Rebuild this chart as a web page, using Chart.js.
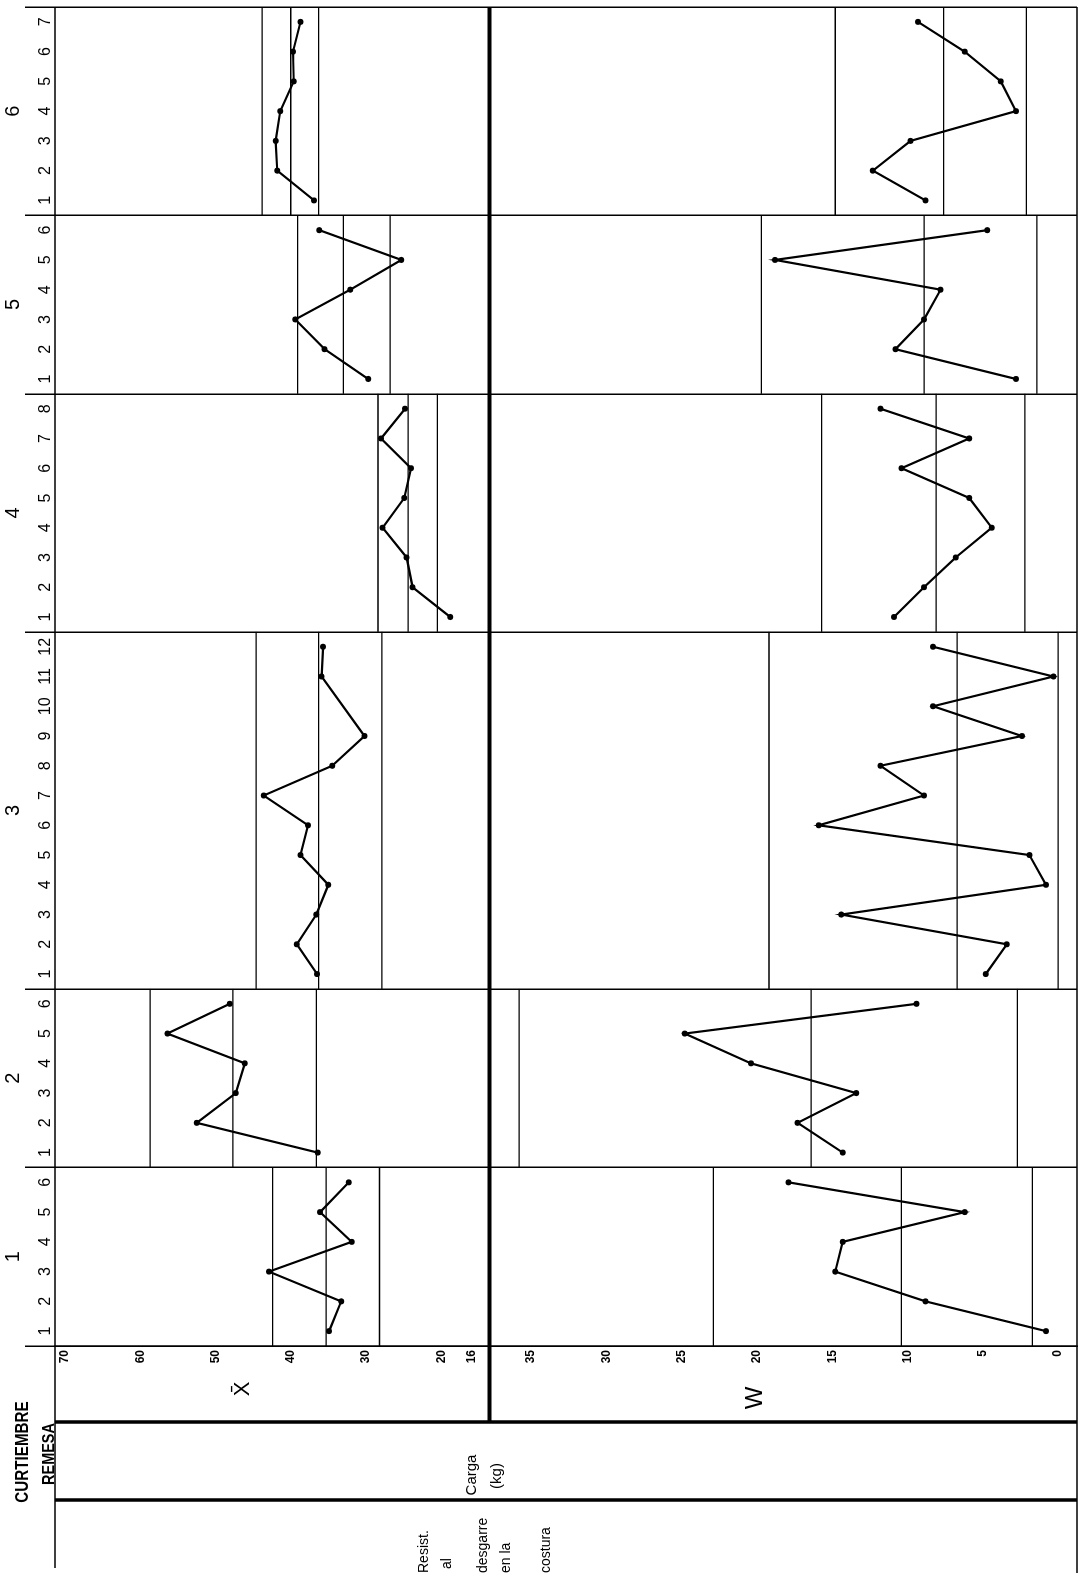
<!DOCTYPE html>
<html>
<head>
<meta charset="utf-8">
<script src="https://cdn.jsdelivr.net/npm/chart.js@4.4.0/dist/chart.umd.min.js"></script>
<style>
body { margin: 0; background: #fff; overflow: hidden; }
/* la hoja se dibuja apaisada y se gira como en el original */
#hoja { position: absolute; left: 0; top: 0; width: 1573px; height: 1081px; transform-origin: 0 0;
        transform: translate(0, 1573px) rotate(-90deg); background: #fff; color: #000;
        font-family: "Liberation Sans", Arial, sans-serif; }
#hoja canvas { position: absolute; left: 0; top: 0; }
.t { position: absolute; white-space: nowrap; line-height: 1; }
.c { transform: translate(-50%, -50%); }
.l { transform: translateY(-50%); }
.tit { font-family: "Liberation Sans", Arial, sans-serif; font-weight: bold; }
</style>
</head>
<body>
<div id="hoja">
<canvas id="myChart" width="1573" height="1081"></canvas>
<div class="t tit" style="left:121px; top:21px; font-size:19px; transform:translate(-50%,-50%) scaleX(0.8);">CURTIEMBRE</div>
<div class="t tit" style="left:119px; top:48px; font-size:17px; transform:translate(-50%,-50%) scaleX(0.85);">REMESA</div>
<div class="t c" style="left:184px; top:242px; font-size:22px;">X&#x0304;</div>
<div class="t c" style="left:175px; top:754px; font-size:24px;">W</div>
<div class="t c" style="left:98px; top:470px; font-size:15px;">Carga</div>
<div class="t c" style="left:97px; top:495px; font-size:15px;">(kg)</div>
<div class="t l" style="left:0px; top:423px; font-size:14px;">Resist.</div>
<div class="t l" style="left:4px; top:446px; font-size:14px;">al</div>
<div class="t l" style="left:0px; top:482px; font-size:14px;">desgarre</div>
<div class="t l" style="left:0px; top:505px; font-size:14px;">en la</div>
<div class="t l" style="left:0px; top:545px; font-size:14px;">costura</div>
</div>
<script>
const curtiembres = ['1', '2', '3', '4', '5', '6'];
const remesas = [6, 6, 12, 8, 6, 7];

// X media (kg) por remesa
const xC1 = [34.9, 33.3, 42.9, 31.9, 36.1, 32.3];
const xC2 = [36.4, 52.5, 47.3, 46.1, 56.4, 48.1];
const xC3 = [36.5, 39.2, 36.6, 35.0, 38.7, 37.7, 43.6, 34.5, 30.2, null, 35.9, 35.7];
const xC4 = [18.8, 23.8, 24.6, 27.8, 24.9, 24.0, 28.0, 24.8];
const xC5 = [29.7, 35.5, 39.4, 32.1, 25.3, 36.2];
const xC6 = [36.9, 41.8, 42.0, 41.4, 39.6, 39.7, 38.7];

// W (recorrido) por remesa
const wC1 = [0.8, 8.8, 14.8, 14.3, 6.2, 17.9];
const wC2 = [14.3, 17.3, 13.4, 20.4, 24.8, 9.4];
const wC3 = [4.8, 3.4, 14.4, 0.8, 1.9, 15.9, 8.9, 11.8, 2.4, 8.3, 0.3, 8.3];
const wC4 = [10.9, 8.9, 6.8, 4.4, 5.9, 10.4, 5.9, 11.8];
const wC5 = [2.8, 10.8, 8.9, 7.8, 18.8, 4.7];
const wC6 = [8.8, 12.3, 9.8, 2.8, 3.8, 6.2, 9.3];

// limites de control por curtiembre
const lcsX = [42.4, 58.7, 44.6, 28.4, 39.1, 43.8];
const lcX  = [35.3, 47.7, 36.3, 24.4, 33.0, 40.0];
const lciX = [28.2, 36.6, 27.9, 20.5, 26.8, 36.3];
const lcsW = [22.9, 35.8, 19.2, 15.7, 19.7, 14.8];
const lcW  = [10.4, 16.4, 6.7, 8.1, 8.9, 7.6];
const lciW = [1.7, 2.7, 0.0, 2.2, 1.4, 2.1];

const ticksX = [70, 60, 50, 40, 30, 20, 16];
const ticksW = [35, 30, 25, 20, 15, 10, 5, 0];

const seriesX = [xC1, xC2, xC3, xC4, xC5, xC6];
const seriesW = [wC1, wC2, wC3, wC4, wC5, wC6];

// posicion de cada curtiembre sobre el eje de remesas
const inicio = [];
let total = 0;
remesas.forEach(n => { inicio.push(total); total += n; });
const limites = inicio.concat([total]);
const centros = inicio.map((v, k) => v + remesas[k] / 2);
const posRemesa = [];
const lblRemesa = [];
remesas.forEach((n, k) => {
	for (let i = 1; i <= n; i++) {
		posRemesa.push(inicio[k] + i - 0.5);
		lblRemesa.push(String(i));
	}
});

const datasets = [];
function serie(valores, k, eje) {
	return {
		data: valores.map((v, i) => ({ x: inicio[k] + i + 0.5, y: v })),
		yAxisID: eje,
		borderColor: '#000',
		borderWidth: 2.2,
		pointRadius: 3,
		pointBackgroundColor: '#000',
		pointBorderWidth: 0,
		spanGaps: true,
		tension: 0
	};
}
function limite(v, k, eje) {
	return {
		data: [{ x: inicio[k], y: v }, { x: inicio[k] + remesas[k], y: v }],
		yAxisID: eje,
		borderColor: '#000',
		borderWidth: 1.3,
		pointRadius: 0
	};
}
curtiembres.forEach((c, k) => {
	datasets.push(limite(lcsX[k], k, 'yX'), limite(lcX[k], k, 'yX'), limite(lciX[k], k, 'yX'));
	datasets.push(limite(lcsW[k], k, 'yW'), limite(lcW[k], k, 'yW'), limite(lciW[k], k, 'yW'));
	datasets.push(serie(seriesX[k], k, 'yX'));
	datasets.push(serie(seriesW[k], k, 'yW'));
});

// sin relleno extra de los ejes, el area queda fija
function sinRelleno(s) {
	s.paddingTop = 0;
	s.paddingBottom = 0;
	s.paddingLeft = 0;
	s.paddingRight = 0;
}

// lineas de la tabla (columna de rotulos y divisiones gruesas)
const marco = {
	id: 'marco',
	afterDraw(chart) {
		const { ctx, chartArea: a, scales } = chart;
		const linea = (x1, y1, x2, y2, w) => {
			ctx.lineWidth = w;
			ctx.beginPath();
			ctx.moveTo(x1, y1);
			ctx.lineTo(x2, y2);
			ctx.stroke();
		};
		ctx.save();
		ctx.strokeStyle = '#000';
		linea(5, a.top, a.right, a.top, 1.5);
		linea(0, a.bottom, a.right, a.bottom, 1.5);
		linea(151, scales.yX.bottom, a.right, scales.yX.bottom, 4);
		linea(73, a.top, 73, a.bottom, 3.5);
		linea(151, a.top, 151, a.bottom, 3.5);
		ctx.restore();
	}
};

const ctx = document.getElementById('myChart').getContext('2d');
const myChart = new Chart(ctx, {
	type: 'line',
	data: { datasets: datasets },
	plugins: [marco],
	options: {
		responsive: false,
		animation: false,
		events: [],
		layout: { padding: { left: 5, right: 7, top: 0, bottom: 3 } },
		plugins: { legend: { display: false }, tooltip: { enabled: false } },
		scales: {
			xSep: {
				type: 'linear', position: 'top', min: 0, max: total, weight: 0,
				afterBuildTicks: s => { s.ticks = limites.map(v => ({ value: v })); },
				afterFit: s => { s.height = 0; sinRelleno(s); },
				ticks: { display: false },
				grid: { color: '#000', lineWidth: 1.5, tickLength: 30, drawTicks: true },
				border: { display: false }
			},
			x: {
				type: 'linear', position: 'top', min: 0, max: total, weight: 1,
				afterBuildTicks: s => { s.ticks = posRemesa.map(v => ({ value: v })); },
				afterFit: s => { s.height = 30; sinRelleno(s); },
				ticks: { autoSkip: false, maxRotation: 0, padding: 0, color: '#000',
					font: { size: 16, family: 'Liberation Sans' }, callback: (v, i) => lblRemesa[i] },
				grid: { display: false, drawTicks: false },
				border: { display: false }
			},
			xCur: {
				type: 'linear', position: 'top', min: 0, max: total, weight: 2,
				afterBuildTicks: s => { s.ticks = centros.map(v => ({ value: v })); },
				afterFit: s => { s.height = 25; sinRelleno(s); },
				ticks: { autoSkip: false, maxRotation: 0, padding: 0, color: '#000',
					font: { size: 20, family: 'Liberation Sans' }, callback: (v, i) => curtiembres[i] },
				grid: { display: false, drawTicks: false },
				border: { display: false }
			},
			yX: {
				type: 'linear', position: 'left', stack: 'v', stackWeight: 435, weight: 1,
				min: 13.57, max: 71.34,
				afterBuildTicks: s => { s.ticks = ticksX.map(v => ({ value: v })); },
				afterFit: s => { s.width = 222; sinRelleno(s); },
				ticks: { autoSkip: false, padding: 4, color: '#000',
					font: { size: 12, weight: 'bold', family: 'Liberation Sans' } },
				grid: { display: false, drawTicks: false },
				border: { display: true, color: '#000', width: 1.5 }
			},
			yW: {
				type: 'linear', position: 'left', stack: 'v', stackWeight: 588, weight: 0,
				min: -1.26, max: 37.76,
				afterBuildTicks: s => { s.ticks = ticksW.map(v => ({ value: v })); },
				afterFit: s => { s.width = 222; sinRelleno(s); },
				ticks: { autoSkip: false, padding: 4, color: '#000',
					font: { size: 12, weight: 'bold', family: 'Liberation Sans' } },
				grid: { display: false, drawTicks: false },
				border: { display: true, color: '#000', width: 1.5 }
			}
		}
	}
});
</script>
</body>
</html>
